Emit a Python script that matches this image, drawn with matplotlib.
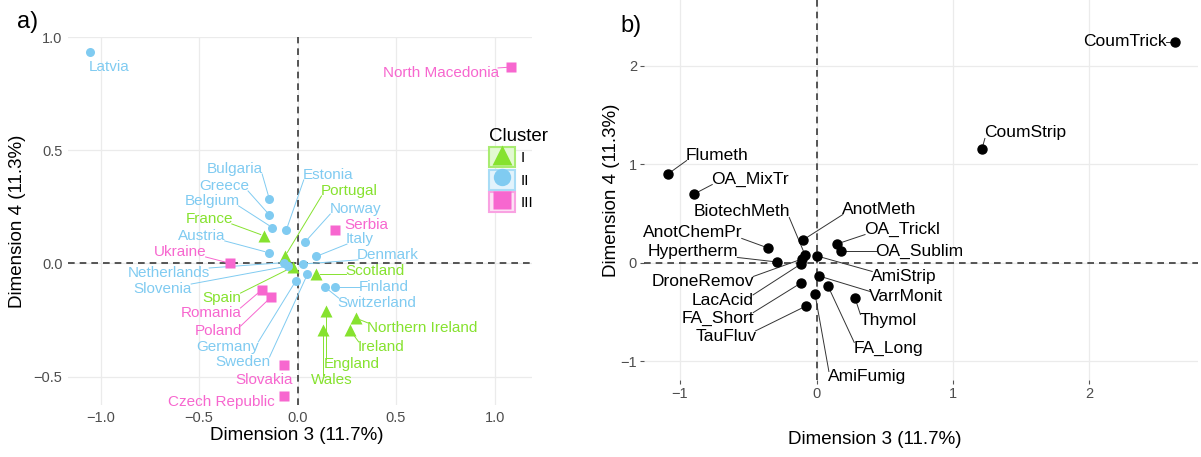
# -*- coding: utf-8 -*-
import numpy as np
import matplotlib
matplotlib.use("Agg")
import matplotlib.pyplot as plt
from matplotlib.lines import Line2D
from matplotlib.patches import Rectangle

plt.rcParams['font.family'] = ['Liberation Sans', 'DejaVu Sans']

# --- donnees panneau a) : pays ---
countries = ['Latvia', 'North Macedonia', 'Bulgaria', 'Greece', 'Belgium', 'Estonia',
             'France', 'Austria', 'Ukraine', 'Serbia', 'Norway', 'Italy', 'Portugal',
             'Netherlands', 'Slovenia', 'Spain', 'Denmark', 'Sweden', 'Scotland',
             'Germany', 'Switzerland', 'Finland', 'England', 'Wales',
             'Northern Ireland', 'Ireland', 'Romania', 'Poland', 'Slovakia',
             'Czech Republic']
dim3 = [-1.055, 1.084, -0.143, -0.143, -0.128, -0.058, -0.168, -0.147, -0.343, 0.190,
        0.040, 0.094, -0.063, -0.069, -0.047, -0.021, 0.029, 0.050, 0.094, -0.008,
        0.140, 0.190, 0.145, 0.131, 0.297, 0.266, -0.182, -0.136, -0.067, -0.067]
dim4 = [0.935, 0.869, 0.285, 0.215, 0.159, 0.146, 0.122, 0.048, 0.001, 0.146,
        0.097, 0.031, 0.033, 0.004, -0.011, -0.014, -0.002, -0.048, -0.046, -0.076,
        -0.105, -0.105, -0.209, -0.294, -0.242, -0.294, -0.117, -0.150, -0.449, -0.585]
cluster = ['II', 'III', 'II', 'II', 'II', 'II', 'I', 'II', 'III', 'III', 'II', 'II', 'I',
           'II', 'II', 'I', 'II', 'II', 'I', 'II', 'II', 'II', 'I', 'I', 'I', 'I',
           'III', 'III', 'III', 'III']

# --- donnees panneau b) : methodes ---
methods = ['CoumTrick', 'CoumStrip', 'Flumeth', 'OA_MixTr', 'AnotChemPr', 'Hypertherm',
           'AnotMeth', 'BiotechMeth', 'DroneRemov', 'LacAcid', 'AmiStrip', 'OA_Trickl',
           'OA_Sublim', 'VarrMonit', 'Thymol', 'FA_Long', 'FA_Short', 'AmiFumig', 'TauFluv']
m_dim3 = [2.626, 1.212, -1.088, -0.897, -0.355, -0.289, -0.099, -0.084, -0.106, -0.114,
          0.004, 0.150, 0.179, 0.018, 0.282, 0.084, -0.114, -0.011, -0.077]
m_dim4 = [2.244, 1.157, 0.904, 0.700, 0.152, 0.010, 0.234, 0.081, 0.041, -0.010,
          0.071, 0.193, 0.122, -0.132, -0.355, -0.234, -0.203, -0.315, -0.437]

# --- placement des etiquettes (centre du texte, coord. donnees) ---
lab_a = {'Latvia': (-0.957, 0.869), 'North Macedonia': (0.728, 0.843),
         'Bulgaria': (-0.317, 0.418), 'Greece': (-0.373, 0.343), 'Belgium': (-0.434, 0.277),
         'France': (-0.449, 0.197), 'Austria': (-0.485, 0.122), 'Ukraine': (-0.595, 0.051),
         'Netherlands': (-0.652, -0.042), 'Slovenia': (-0.683, -0.113),
         'Estonia': (0.155, 0.392), 'Portugal': (0.261, 0.321), 'Norway': (0.292, 0.241),
         'Serbia': (0.348, 0.170), 'Italy': (0.317, 0.108), 'Denmark': (0.459, 0.038),
         'Scotland': (0.393, -0.033), 'Finland': (0.439, -0.104),
         'Switzerland': (0.404, -0.175), 'Northern Ireland': (0.632, -0.285),
         'Ireland': (0.424, -0.369), 'England': (0.277, -0.445), 'Wales': (0.175, -0.515),
         'Spain': (-0.383, -0.153), 'Romania': (-0.439, -0.219), 'Poland': (-0.404, -0.299),
         'Germany': (-0.353, -0.369), 'Sweden': (-0.277, -0.436),
         'Slovakia': (-0.170, -0.515), 'Czech Republic': (-0.388, -0.613)}
lab_b = {'CoumTrick': (2.26, 2.244), 'CoumStrip': (1.527, 1.320), 'Flumeth': (-0.729, 1.096),
         'OA_MixTr': (-0.487, 0.853), 'BiotechMeth': (-0.546, 0.518),
         'AnotChemPr': (-0.905, 0.305), 'Hypertherm': (-0.905, 0.112),
         'DroneRemov': (-0.832, -0.193), 'LacAcid': (-0.685, -0.380),
         'FA_Short': (-0.722, -0.560), 'TauFluv': (-0.663, -0.745),
         'AnotMeth': (0.458, 0.548), 'OA_Trickl': (0.626, 0.345), 'OA_Sublim': (0.751, 0.122),
         'AmiStrip': (0.641, -0.142), 'VarrMonit': (0.656, -0.345), 'Thymol': (0.524, -0.579),
         'FA_Long': (0.524, -0.863), 'AmiFumig': (0.370, -1.157)}

couleurs = {'I': '#86E22F', 'II': '#80CBF1', 'III': '#F767CF'}
fonds = {'I': '#E3F9D2', 'II': '#E2F3FC', 'III': '#FDE2F5'}
bords = {'I': '#A9EC72', 'II': '#A8DCF6', 'III': '#F9A2E2'}
marqueurs = {'I': '^', 'II': 'o', 'III': 's'}
tailles = {'I': 8.5, 'II': 6.5, 'III': 6.5}

W, H = 1201, 457
fig = plt.figure(figsize=(W / 100, H / 100), dpi=100)


def axes_px(x0, x1, y0, y1):
    # position en pixels (haut = y0)
    return fig.add_axes([x0 / W, 1 - y1 / H, (x1 - x0) / W, (y1 - y0) / H])


def style(ax):
    for s in ax.spines.values():
        s.set_visible(False)
    ax.grid(True, color='#EBEBEB', lw=0.9)
    ax.set_axisbelow(True)
    ax.axhline(0, color='#3A3A3A', lw=1.2, ls=(0, (4, 3)), zorder=1)
    ax.axvline(0, color='#3A3A3A', lw=1.2, ls=(0, (4, 3)), zorder=1)


def segments(ax, xs, ys, textes, cols, mini=7, pp=4):
    fig.canvas.draw()
    r = fig.canvas.get_renderer()
    for x, y, t, c in zip(xs, ys, textes, cols):
        bb = t.get_window_extent(r)
        px, py = ax.transData.transform((x, y))
        nx = min(max(px, bb.x0 + 1), bb.x1 - 1)
        ny = min(max(py, bb.y0 + 2), bb.y1 - 2)
        d = np.hypot(px - nx, py - ny)
        if d < mini:
            continue
        f = (d - pp) / d
        ex, ey = nx + (px - nx) * f, ny + (py - ny) * f
        pts = ax.transData.inverted().transform([(nx, ny), (ex, ey)])
        ax.plot(pts[:, 0], pts[:, 1], color=c, lw=0.7, zorder=2)


# ---------------- a) ----------------
ax1 = axes_px(68, 532, 37, 405)
style(ax1)
ax1.set_xlim(-1.165, 1.19)
ax1.set_ylim(-0.626, 1.002)
ax1.set_xticks([-1.0, -0.5, 0.0, 0.5, 1.0])
ax1.set_yticks([-0.5, 0.0, 0.5, 1.0])
ax1.set_xticklabels(['\u22121.0', '\u22120.5', '0.0', '0.5', '1.0'])
ax1.set_yticklabels(['\u22120.5', '0.0', '0.5', '1.0'])
ax1.tick_params(length=0, labelsize=10.5, labelcolor='#4D4D4D', pad=4)

for k in ['I', 'II', 'III']:
    idx = [i for i, c in enumerate(cluster) if c == k]
    ax1.plot([dim3[i] for i in idx], [dim4[i] for i in idx], ls='none',
             marker=marqueurs[k], ms=tailles[k], color=couleurs[k], mec='none', zorder=3)

textes_a = []
for i, n in enumerate(countries):
    tx, ty = lab_a[n]
    textes_a.append(ax1.text(tx, ty, n, ha='center', va='center', fontsize=11,
                             color=couleurs[cluster[i]], zorder=4))
segments(ax1, dim3, dim4, textes_a, [couleurs[c] for c in cluster], mini=11)

# legende
poignees = []
for k in ['I', 'II', 'III']:
    fond = Rectangle((0, 0), 1, 1, facecolor=fonds[k], edgecolor=bords[k], lw=1.5)
    mk = Line2D([], [], ls='none', marker=marqueurs[k], ms=tailles[k] + 6,
                color=couleurs[k], mec='none')
    poignees.append((fond, mk))
leg = ax1.legend(poignees, ['I', 'II', 'III'], title='Cluster', loc='upper left',
                 bbox_to_anchor=(489 / W, 1 - 128 / H), bbox_transform=fig.transFigure,
                 frameon=False, fontsize=11, title_fontsize=13.5, handlelength=1.7,
                 handleheight=1.65, labelspacing=0.15, handletextpad=0.4, borderpad=0,
                 borderaxespad=0)
leg._legend_box.align = 'left'

fig.text(297 / W, 1 - 436 / H, 'Dimension 3 (11.7%)', ha='center', va='center', fontsize=13.5)
fig.text(18 / W, 1 - 221 / H, 'Dimension 4 (11.3%)', ha='center', va='center',
         fontsize=13.5, rotation=90)
fig.text(28 / W, 1 - 22 / H, 'a)', ha='center', va='center', fontsize=17)

# ---------------- b) ----------------
ax2 = axes_px(644, 1198, 0, 380)
style(ax2)
ax2.set_xlim(-1.264, 2.795)
ax2.set_ylim(-1.188, 2.67)
ax2.set_xticks([-1, 0, 1, 2])
ax2.set_yticks([-1, 0, 1, 2])
ax2.set_xticklabels(['\u22121', '0', '1', '2'])
ax2.set_yticklabels(['\u22121', '0', '1', '2'])
ax2.tick_params(length=3, width=0.8, color='#555555', labelsize=10.5,
                labelcolor='#4D4D4D', pad=2)

ax2.plot(m_dim3, m_dim4, ls='none', marker='o', ms=6.5, color='black', zorder=3)
textes_b = []
for n in methods:
    tx, ty = lab_b[n]
    textes_b.append(ax2.text(tx, ty, n, ha='center', va='center', fontsize=12.5,
                             color='black', zorder=4))
segments(ax2, m_dim3, m_dim4, textes_b, ['#333333'] * len(methods))

fig.text(875 / W, 1 - 440 / H, 'Dimension 3 (11.7%)', ha='center', va='center', fontsize=13.5)
fig.text(612 / W, 1 - 190 / H, 'Dimension 4 (11.3%)', ha='center', va='center',
         fontsize=13.5, rotation=90)
fig.text(631 / W, 1 - 26 / H, 'b)', ha='center', va='center', fontsize=17)

fig.savefig('out.png', dpi=100)
